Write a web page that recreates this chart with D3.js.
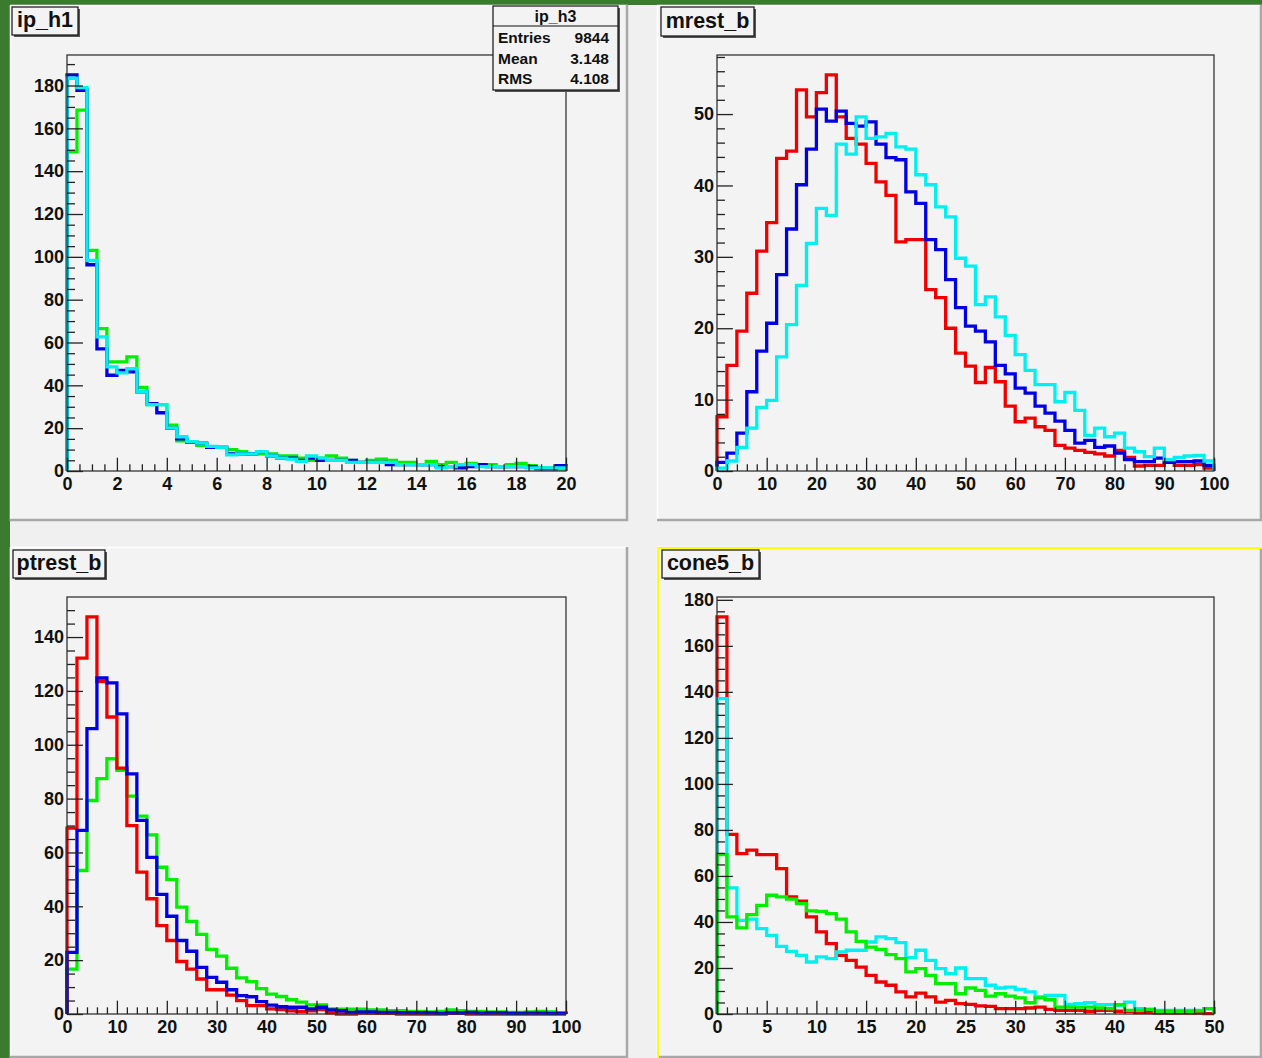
<!DOCTYPE html>
<html>
<head>
<meta charset="utf-8">
<script src="https://cdnjs.cloudflare.com/ajax/libs/d3/7.8.5/d3.min.js"></script>
<style>
  body { margin: 0; background: #f0f0f0; }
  svg { display: block; }
  .tick text { font-family: "Liberation Sans", Arial, sans-serif; font-weight: bold; }
</style>
</head>
<body>
<div id="chart"></div>
<script>
// ---- data: bin contents ----
// ip_h1 : 50 bins, 0..20
var ipGreen = [149,168.5,103,66.5,51,51,53.3,39,31,31,21.4,14.1,13.5,12,11,11,10,9,8,8,8,7,7,6,5,6,7,6,5,4,5,5.5,5,4,4,3,4.5,3,4,3,3.5,3,3,2,3,3.5,2.5,1.5,1.5,1];
var ipBlue  = [185,177.8,96.3,57,44.7,47,46.3,37,31.5,27.2,19.9,15,13.5,13,11,11,8,8,8,9,7,6,6,5,6,5,5,5,5,4,4,4,3,3,3,3,3,2,2,1.5,2,3,2,2,2,2,2,1,1,2.5];
var ipCyan  = [183.4,179,98.3,62.6,48.6,45.8,47.8,37,31,31,20,16,13.7,13,11.5,11,7.5,8,8,9,7,6,5.5,4.5,7,6,5,5,4,4,4,4,4,3,3,3,3,1.5,2,3,3,2,2,2,2,2,1.5,1.5,1.5,1.5];

// mrest_b : 50 bins, 0..100
var mrestRed  = [7.6,14.8,19.6,24.9,30.8,34.8,43.8,44.8,53.4,49.6,53,55.5,49.6,46.6,45.8,43.1,40.5,38.6,32.1,32.4,32.4,25.4,24.3,20,16.5,14.7,12.4,14.5,12.5,9.1,6.9,7.4,6.2,5.7,3.6,3.2,2.9,2.6,2.4,2.1,2.9,1.9,0.7,0.8,0.8,1.2,0.8,0.8,0.9,0.4];
var mrestBlue = [1.2,2.5,5.3,11.1,16.8,20.7,27.5,33.9,40.1,45.1,50.7,49,50.4,48.7,48.3,48.9,45.8,43.9,43.6,39.1,37.5,32.4,31,26.8,22.9,20.3,19.6,18.1,14.8,13.6,11.6,10.9,9.1,8.1,7,5.7,3.9,4.3,3.3,3.5,2.5,1.6,1.3,1.3,1.8,1.2,1.3,1.3,1.4,0.8];
var mrestCyan = [0.4,1.4,3.3,6,8.9,9.9,16,20.5,26,31.9,36.8,35.8,45.8,44.4,49.6,46.6,46.8,47.3,45.4,45.1,41.5,40.1,37,35.6,29.8,28.7,23.3,24.4,21.6,19,16.3,14.1,12.1,12.1,9.7,11,8.5,5,6,4.8,5.3,3.2,2.7,2,3.2,1.6,1.9,2.1,2.2,1.4];

// ptrest_b : 50 bins, 0..100
var ptrestGreen = [16.7,53.3,79.3,87.4,94.8,90.5,80.9,73.5,66.5,54.5,49.9,39.7,34.4,29.6,24,21.5,17,13.4,12,9.4,7.4,6.5,5.3,4.4,3.4,3.4,1.9,1.8,1.8,1.8,1.5,1.5,1.2,1.2,1,1,0.8,1,1.5,1.2,1,1,0.8,0.8,0.6,0.6,0.8,1,0.8,0.5];
var ptrestRed   = [69,132.2,147.5,123.5,110.3,91.3,70,52.7,42.8,32.8,27.3,19.5,16.7,13,9,9,7,5,3.1,3.1,1.9,1.6,1.2,1,1.2,1.6,0.4,0,0,0.3,0.3,0.2,0.2,0,0,0,0,0,0.2,0.2,0,0,0,0,0,0,0,0,0,0];
var ptrestBlue  = [22.9,68.2,106,124.8,123,111.5,89.2,71.9,58.2,44.4,36.3,27.3,23.3,17.3,13.6,11.8,9,6.8,6.4,4.6,3.3,2.7,2.5,2.5,1.9,2.5,1.5,1.2,0.6,0.8,0.8,0.6,0.6,0.5,0.5,0.5,0.4,0.2,0.4,0.4,0.6,0.3,0.4,0.4,0.2,0.2,0.3,0.3,0.2,0.2];

// cone5_b : 50 bins, 0..50
var coneRed   = [172.6,78.1,69.7,71.2,69.3,69.3,63.2,50.9,49,42.2,35.7,30.6,25.5,23.3,20.4,16.8,13.9,12.5,9.6,7.4,9.1,7.4,5.2,5.9,4.5,4.2,3.5,3.3,2.3,2.3,2.3,2.6,3,2,1.6,1.6,1.6,1.2,1.6,1.6,1.2,1.2,0.6,0.6,0.4,0.4,0.4,0.4,0.4,0.2];
var coneCyan  = [137.1,54.8,40.7,41.2,37.1,34.2,29.4,27.2,25.5,22.6,24.8,24.1,27,27.7,27.7,31.3,33.5,32.8,31,24.5,27.7,23.3,19.7,17.5,20,15.4,15.4,12.5,11.3,11.7,10.7,9.6,7.4,8.1,8.1,4.2,4.5,4.9,4.1,4.1,3.8,5.2,2.3,2,1.6,1.6,1.6,1.6,1.6,2.3];
var coneGreen = [69.3,42.2,37.4,43.2,47.2,51.6,50.9,49.9,48,44.8,44.6,43.6,41.2,35.7,31.6,29.1,28.1,25.8,24.1,18.3,19.7,16.8,13.2,13.2,8.8,11.3,10.3,7.8,8.8,7.8,7,4.9,7,6.2,3,3,3,3,2.6,2.3,4.1,1.6,1.6,2,1.2,1.2,1.2,1.2,1.4,2.3];

// tick labels
var ipXTicks = d3.range(0, 21, 2);
var ipYTicks = d3.range(0, 181, 20);
var mrestXTicks = d3.range(0, 101, 10);
var mrestYTicks = d3.range(0, 51, 10);
var ptrestXTicks = d3.range(0, 101, 10);
var ptrestYTicks = d3.range(0, 141, 20);
var coneXTicks = d3.range(0, 51, 5);
var coneYTicks = d3.range(0, 181, 20);

var statsTitle = "ip_h3";
var statsRows = [["Entries", "9844"], ["Mean", "3.148"], ["RMS", "4.108"]];

// ---- canvas ----
var W = 1262, H = 1058;
var svg = d3.select("#chart").append("svg")
    .attr("width", W)
    .attr("height", H);

svg.append("rect").attr("width", W).attr("height", H).attr("fill", "#f0f0f0");
// green window border
svg.append("rect").attr("x", 0).attr("y", 0).attr("width", 10).attr("height", H).attr("fill", "#3b7b2e");
svg.append("rect").attr("x", 0).attr("y", 0).attr("width", W).attr("height", 5).attr("fill", "#3b7b2e");

var pads = [
  {name: "ip_h1", px: 10, py: 5, pw: 618, ph: 516, left: 67, right: 566, top: 55, bottom: 471,
   xmin: 0, xmax: 20, xTicks: ipXTicks, xMinor: 0.5, yTicks: ipYTicks, yMinor: 5,
   titleBox: [12, 7, 66, 28],
   series: [{v: ipGreen, c: "#00ee00"}, {v: ipBlue, c: "#0000e0"}, {v: ipCyan, c: "#00f0f0"}]},
  {name: "mrest_b", px: 657, py: 5, pw: 605, ph: 516, left: 717, right: 1214, top: 55, bottom: 471,
   xmin: 0, xmax: 100, xTicks: mrestXTicks, xMinor: 2, yTicks: mrestYTicks, yMinor: 2,
   titleBox: [661, 7, 93, 29],
   series: [{v: mrestRed, c: "#ee0000"}, {v: mrestBlue, c: "#0000e0"}, {v: mrestCyan, c: "#00f0f0"}]},
  {name: "ptrest_b", px: 10, py: 547, pw: 618, ph: 511, left: 67, right: 566, top: 597, bottom: 1014,
   xmin: 0, xmax: 100, xTicks: ptrestXTicks, xMinor: 2, yTicks: ptrestYTicks, yMinor: 5,
   titleBox: [13, 550, 92, 28],
   series: [{v: ptrestGreen, c: "#00ee00"}, {v: ptrestRed, c: "#ee0000"}, {v: ptrestBlue, c: "#0000e0"}]},
  {name: "cone5_b", px: 657, py: 547, pw: 605, ph: 511, left: 717, right: 1214, top: 597, bottom: 1014,
   xmin: 0, xmax: 50, xTicks: coneXTicks, xMinor: 1, yTicks: coneYTicks, yMinor: 5,
   titleBox: [662, 550, 97, 28],
   series: [{v: coneRed, c: "#ee0000"}, {v: coneCyan, c: "#00f0f0"}, {v: coneGreen, c: "#00ee00"}]}
];

pads.forEach(function(p, i) {
  var g = svg.append("g");

  // pad background with bevel
  g.append("rect").attr("x", p.px).attr("y", p.py).attr("width", p.pw).attr("height", p.ph).attr("fill", "#f3f3f3");
  g.append("line").attr("x1", p.px).attr("x2", p.px + p.pw).attr("y1", p.py + 0.5).attr("y2", p.py + 0.5)
    .attr("stroke", "#ffffff").attr("stroke-width", 1.5);
  g.append("line").attr("x1", p.px + 0.5).attr("x2", p.px + 0.5).attr("y1", p.py).attr("y2", p.py + p.ph)
    .attr("stroke", "#ffffff").attr("stroke-width", 1.5);
  g.append("line").attr("x1", p.px).attr("x2", p.px + p.pw).attr("y1", p.py + p.ph - 1).attr("y2", p.py + p.ph - 1)
    .attr("stroke", "#a8a8a8").attr("stroke-width", 2.5);
  g.append("line").attr("x1", p.px + p.pw - 1).attr("x2", p.px + p.pw - 1).attr("y1", p.py).attr("y2", p.py + p.ph)
    .attr("stroke", "#a8a8a8").attr("stroke-width", 2.5);

  var x = d3.scaleLinear().domain([p.xmin, p.xmax]).range([p.left, p.right]);
  var ymax = 1.05 * d3.max(p.series, function(s) { return d3.max(s.v); });
  var y = d3.scaleLinear().domain([0, ymax]).range([p.bottom, p.top]);

  // histograms (step outline from the baseline)
  var n = p.series[0].v.length;
  var bw = (p.xmax - p.xmin) / n;
  var line = d3.line()
      .x(function(d) { return x(d[0]); })
      .y(function(d) { return y(d[1]); })
      .curve(d3.curveStepAfter);
  p.series.forEach(function(s) {
    var pts = [[p.xmin, 0]];
    s.v.forEach(function(v, k) { pts.push([p.xmin + k * bw, v]); });
    pts.push([p.xmax, s.v[n - 1]]);
    pts.push([p.xmax, 0]);
    g.append("path").datum(pts)
      .attr("d", line)
      .attr("fill", "none")
      .attr("stroke", s.c)
      .attr("stroke-width", 3.3)
      .attr("stroke-linejoin", "miter");
  });

  // frame
  g.append("rect").attr("x", p.left).attr("y", p.top)
    .attr("width", p.right - p.left).attr("height", p.bottom - p.top)
    .attr("fill", "none").attr("stroke", "#333").attr("stroke-width", 1.3);

  var fw = p.right - p.left, fh = p.bottom - p.top;
  var xMinors = d3.range(p.xmin, p.xmax + 1e-9, p.xMinor).filter(function(v) { return p.xTicks.indexOf(+v.toFixed(6)) < 0; });
  var yMinors = d3.range(0, ymax, p.yMinor).filter(function(v) { return p.yTicks.indexOf(v) < 0; });

  // x axis (ticks drawn inside the frame)
  g.append("g").attr("transform", "translate(0," + p.bottom + ")")
    .call(d3.axisBottom(x).tickValues(xMinors).tickSize(-0.016 * fh).tickFormat("").tickSizeOuter(0))
    .call(function(a) { a.select(".domain").remove(); });
  var xa = g.append("g").attr("transform", "translate(0," + p.bottom + ")")
    .call(d3.axisBottom(x).tickValues(p.xTicks).tickSize(-0.032 * fh).tickPadding(6).tickSizeOuter(0).tickFormat(d3.format("d")));
  xa.select(".domain").remove();
  xa.selectAll("text").attr("font-size", 18).attr("fill", "#111");

  // y axis
  g.append("g").attr("transform", "translate(" + p.left + ",0)")
    .call(d3.axisLeft(y).tickValues(yMinors).tickSize(-0.016 * fw).tickFormat("").tickSizeOuter(0))
    .call(function(a) { a.select(".domain").remove(); });
  var ya = g.append("g").attr("transform", "translate(" + p.left + ",0)")
    .call(d3.axisLeft(y).tickValues(p.yTicks).tickSize(-0.032 * fw).tickPadding(3).tickSizeOuter(0).tickFormat(d3.format("d")));
  ya.select(".domain").remove();
  ya.selectAll("text").attr("font-size", 18).attr("fill", "#111");
  g.selectAll(".tick line").attr("stroke", "#222").attr("stroke-width", 1.3);

  // title box
  var tb = p.titleBox;
  g.append("rect").attr("x", tb[0] + 2).attr("y", tb[1] + 2).attr("width", tb[2]).attr("height", tb[3]).attr("fill", "#555");
  g.append("rect").attr("x", tb[0]).attr("y", tb[1]).attr("width", tb[2]).attr("height", tb[3])
    .attr("fill", "#f3f3f3").attr("stroke", "#111").attr("stroke-width", 1.2);
  g.append("text").attr("x", tb[0] + tb[2] / 2).attr("y", tb[1] + tb[3] - 8)
    .attr("text-anchor", "middle")
    .attr("font-family", "'Liberation Sans', Arial, sans-serif").attr("font-weight", "bold")
    .attr("font-size", 21.5).attr("fill", "#111")
    .text(p.name);

  // yellow border of the active pad
  if (i === 3) {
    g.append("path")
      .attr("d", "M" + (p.px + 1) + "," + (p.py + p.ph) + "V" + (p.py + 1) + "H" + (p.px + p.pw))
      .attr("fill", "none").attr("stroke", "#ffff00").attr("stroke-width", 2);
  }
});

// stats box (pad 1)
var sb = {x: 493, y: 6, w: 125, h: 84};
var st = svg.append("g");
st.append("rect").attr("x", sb.x + 2).attr("y", sb.y + 2).attr("width", sb.w).attr("height", sb.h).attr("fill", "#555");
st.append("rect").attr("x", sb.x).attr("y", sb.y).attr("width", sb.w).attr("height", sb.h)
  .attr("fill", "#f3f3f3").attr("stroke", "#111").attr("stroke-width", 1.2);
st.append("line").attr("x1", sb.x).attr("x2", sb.x + sb.w).attr("y1", sb.y + 20).attr("y2", sb.y + 20)
  .attr("stroke", "#111").attr("stroke-width", 1.2);
st.append("text").attr("x", sb.x + sb.w / 2).attr("y", sb.y + 16).attr("text-anchor", "middle")
  .attr("font-family", "'Liberation Sans', Arial, sans-serif").attr("font-weight", "bold")
  .attr("font-size", 16).attr("fill", "#111").text(statsTitle);
statsRows.forEach(function(r, k) {
  var yy = sb.y + 37 + k * 20.5;
  st.append("text").attr("x", sb.x + 5).attr("y", yy)
    .attr("font-family", "'Liberation Sans', Arial, sans-serif").attr("font-weight", "bold")
    .attr("font-size", 15.5).attr("fill", "#111").text(r[0]);
  st.append("text").attr("x", sb.x + sb.w - 9).attr("y", yy).attr("text-anchor", "end")
    .attr("font-family", "'Liberation Sans', Arial, sans-serif").attr("font-weight", "bold")
    .attr("font-size", 15.5).attr("fill", "#111").text(r[1]);
});
</script>
</body>
</html>
